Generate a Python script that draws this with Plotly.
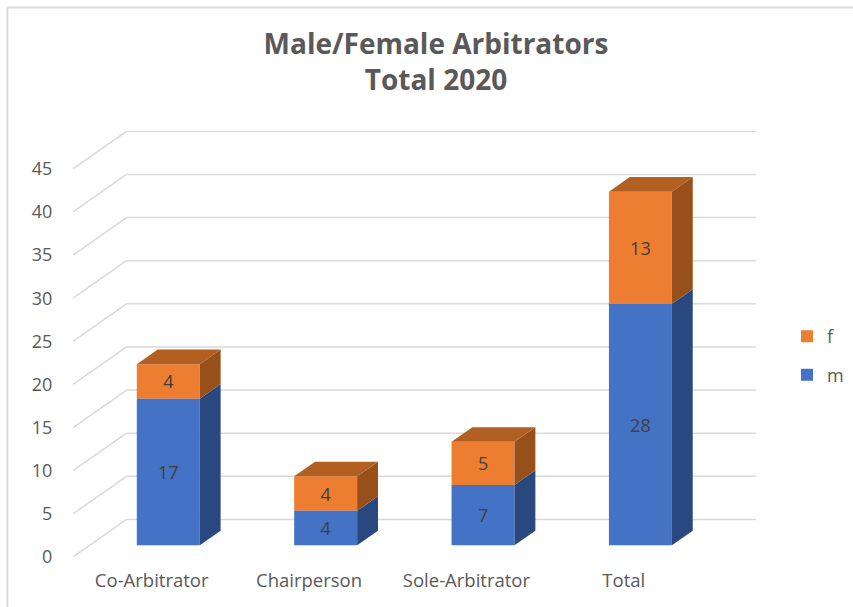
import plotly.graph_objects as go

categories = ["Co-Arbitrator", "Chairperson", "Sole-Arbitrator", "Total"]
m_values = [17, 4, 7, 28]
f_values = [4, 4, 5, 13]
y_ticks = [0, 5, 10, 15, 20, 25, 30, 35, 40, 45]

FONT = "Open Sans"
GRID = "#d9d9d9"
BLUE, BLUE_SIDE = "#4472c4", "#2a4880"
ORANGE, ORANGE_SIDE, ORANGE_TOP = "#ed7d31", "#98501b", "#b25f22"

# oblique projection: full floor depth expressed in axis units
WALL_DX, WALL_DY = 0.34, 4.35
BAR_W = 0.40
D_FRONT, D_BACK = 0.31, 0.70
x_shift = WALL_DX * D_FRONT
y_shift = WALL_DY * D_FRONT
side_dx = WALL_DX * (D_BACK - D_FRONT)
side_dy = WALL_DY * (D_BACK - D_FRONT)

PL, PR, PT, PB = 72.7, 756, 131, 556.7
x_range = [-0.5, 3.84]
y_range = [0, (PB - PT) / 8.62]

fig = go.Figure()

centers = [i + x_shift for i in range(len(categories))]
m_base = [y_shift] * len(categories)
f_base = [y_shift + v for v in m_values]
totals = [a + b for a, b in zip(m_values, f_values)]

def polygon(xs, ys, color):
    fig.add_trace(go.Scatter(x=xs, y=ys, mode="lines", fill="toself", fillcolor=color,
                             line=dict(width=0, color=color), showlegend=False, hoverinfo="skip"))

label_font = dict(family=FONT, size=18, color="#404040")
fig.add_trace(go.Bar(name="f", legendgroup="f", x=centers, y=f_values, base=f_base, width=BAR_W, marker_color=ORANGE,
                     marker_line_width=0, text=f_values, textposition="inside", insidetextanchor="middle",
                     textangle=0, constraintext="none", textfont=label_font))
fig.add_trace(go.Bar(name="m", legendgroup="m", x=centers, y=m_values, base=m_base, width=BAR_W, marker_color=BLUE,
                     marker_line_width=0, text=m_values, textposition="inside", insidetextanchor="middle",
                     textangle=0, constraintext="none", textfont=label_font))

for c, mv, tv in zip(centers, m_values, totals):
    r = c + BAR_W / 2
    l = c - BAR_W / 2
    polygon([r, r + side_dx, r + side_dx, r, r],
            [y_shift, y_shift + side_dy, y_shift + mv + side_dy, y_shift + mv, y_shift], BLUE_SIDE)
    polygon([r, r + side_dx, r + side_dx, r, r],
            [y_shift + mv, y_shift + mv + side_dy, y_shift + tv + side_dy, y_shift + tv, y_shift + mv], ORANGE_SIDE)
    polygon([l, r, r + side_dx, l + side_dx, l],
            [y_shift + tv, y_shift + tv, y_shift + tv + side_dy, y_shift + tv + side_dy, y_shift + tv], ORANGE_TOP)

shapes = []
for v in y_ticks:
    shapes.append(dict(type="line", xref="x", yref="y", layer="below",
                       x0=-0.5, y0=v, x1=-0.5 + WALL_DX, y1=v + WALL_DY, line=dict(color=GRID, width=1.5)))
    shapes.append(dict(type="line", xref="x", yref="y", layer="below",
                       x0=-0.5 + WALL_DX, y0=v + WALL_DY, x1=x_range[1], y1=v + WALL_DY, line=dict(color=GRID, width=1.5)))

def px(p):
    return (p - PL) / (PR - PL)
def py(p):
    return (PB - p) / (PB - PT)

shapes.append(dict(type="line", xref="paper", yref="paper", layer="below",
                   x0=px(7), y0=py(7.7), x1=px(860), y1=py(7.7), line=dict(color=GRID, width=2)))
shapes.append(dict(type="line", xref="paper", yref="paper", layer="below",
                   x0=px(7), y0=py(7.7), x1=px(7), y1=py(620), line=dict(color=GRID, width=2)))

fig.update_layout(
    width=853, height=607, autosize=False,
    margin=dict(l=PL, r=853 - PR, t=PT, b=607 - PB, pad=0, autoexpand=False),
    paper_bgcolor="white", plot_bgcolor="white",
    barmode="overlay",
    shapes=shapes,
    title=dict(text="Male/Female Arbitrators<br>Total 2020", xref="container", yref="container",
               x=436 / 853, xanchor="center", y=1 - 54 / 607, yanchor="top",
               font=dict(family=FONT, size=28, color="#595959", weight="bold")),
    xaxis=dict(range=x_range, tickmode="array", tickvals=list(range(len(categories))), ticktext=categories,
               showgrid=False, zeroline=False, showline=False, ticks="outside", ticklen=7,
               tickcolor="rgba(0,0,0,0)", tickfont=dict(family=FONT, size=18.5, color="#595959")),
    yaxis=dict(range=y_range, tickmode="array", tickvals=y_ticks,
               showgrid=False, zeroline=False, showline=False, ticks="outside", ticklen=16,
               tickcolor="rgba(0,0,0,0)", tickfont=dict(family=FONT, size=18, color="#595959")),
    legend=dict(x=px(787), y=py(318), xanchor="left", yanchor="top", traceorder="grouped", tracegroupgap=12,
                font=dict(family=FONT, size=18, color="#595959"), bgcolor="rgba(0,0,0,0)", itemclick=False),
)

fig.write_html("out.html", config=dict(displayModeBar=False),
               post_script="document.documentElement.style.overflow='hidden';document.body.style.margin='0';window.dispatchEvent(new Event('resize'));")
